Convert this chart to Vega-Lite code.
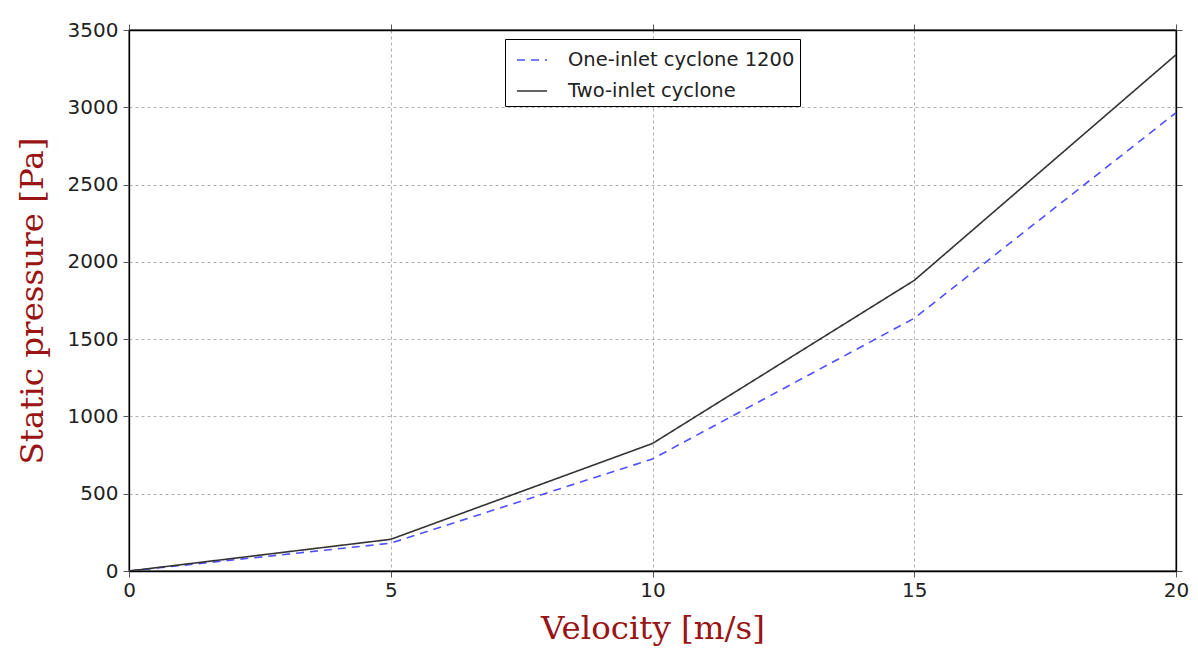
{
  "$schema": "https://vega.github.io/schema/vega-lite/v6.json",
  "width": 1047,
  "height": 541,
  "autosize": "none",
  "padding": {"left": 129, "top": 30, "right": 22, "bottom": 81},
  "background": "white",
  "config": {
    "view": {"stroke": "black", "strokeWidth": 1.3},
    "axis": {
      "labelFont": "DejaVu Sans",
      "labelFontSize": 20,
      "labelColor": "#222222",
      "labelFlush": false,
      "format": "d",
      "domain": true,
      "domainColor": "black",
      "domainWidth": 1.3,
      "zindex": 1,
      "tickColor": "#555555",
      "tickSize": 6,
      "gridColor": "#b0b0b0",
      "gridDash": [3, 3],
      "gridWidth": 1,
      "titleFont": "DejaVu Serif",
      "titleFontWeight": "normal",
      "titleFontSize": 32.5,
      "titleColor": "#991515"
    }
  },
  "data": {
    "values": [
      {"v": 0, "p": 0, "s": "One-inlet cyclone 1200"},
      {"v": 5, "p": 180, "s": "One-inlet cyclone 1200"},
      {"v": 10, "p": 725, "s": "One-inlet cyclone 1200"},
      {"v": 15, "p": 1635, "s": "One-inlet cyclone 1200"},
      {"v": 20, "p": 2965, "s": "One-inlet cyclone 1200"},
      {"v": 0, "p": 0, "s": "Two-inlet cyclone"},
      {"v": 5, "p": 205, "s": "Two-inlet cyclone"},
      {"v": 10, "p": 825, "s": "Two-inlet cyclone"},
      {"v": 15, "p": 1880, "s": "Two-inlet cyclone"},
      {"v": 20, "p": 3340, "s": "Two-inlet cyclone"}
    ]
  },
  "layer": [
    {
      "mark": {"type": "line", "strokeWidth": 1.6, "clip": true},
      "encoding": {
        "x": {
          "field": "v", "type": "quantitative",
          "scale": {"domain": [0, 20], "nice": false},
          "axis": {"values": [0, 5, 10, 15, 20], "title": "Velocity [m/s]", "labelPadding": 3, "titlePadding": 12}
        },
        "y": {
          "field": "p", "type": "quantitative",
          "scale": {"domain": [0, 3500], "nice": false},
          "axis": {"values": [0, 500, 1000, 1500, 2000, 2500, 3000, 3500], "title": "Static pressure [Pa]", "labelPadding": 5, "titlePadding": 18}
        },
        "color": {
          "field": "s", "type": "nominal",
          "scale": {"domain": ["One-inlet cyclone 1200", "Two-inlet cyclone"], "range": ["#5050ff", "#333333"]},
          "legend": {
            "orient": "none",
            "legendX": 376,
            "legendY": 9,
            "title": null,
            "symbolType": "stroke",
            "symbolSize": 900,
            "symbolStrokeWidth": 1.6,
            "symbolOffset": 6,
            "labelFont": "DejaVu Sans",
            "labelFontSize": 19.5,
            "labelLimit": 400,
            "labelColor": "#222222",
            "labelOffset": 20,
            "rowPadding": 5,
            "padding": 5,
            "fillColor": "white",
            "strokeColor": "black",
            "cornerRadius": 0
          }
        },
        "strokeDash": {
          "field": "s", "type": "nominal",
          "scale": {"domain": ["One-inlet cyclone 1200", "Two-inlet cyclone"], "range": [[8, 6], [1, 0]]},
          "legend": null
        }
      }
    },
    {
      "mark": {"type": "point", "opacity": 0},
      "encoding": {
        "x": {"field": "v", "type": "quantitative", "axis": {"orient": "top", "labels": false, "grid": false, "title": null, "values": [0, 5, 10, 15, 20]}},
        "y": {"field": "p", "type": "quantitative", "axis": {"orient": "right", "labels": false, "grid": false, "title": null, "values": [0, 500, 1000, 1500, 2000, 2500, 3000, 3500]}}
      }
    }
  ],
  "resolve": {"axis": {"x": "independent", "y": "independent"}}
}
